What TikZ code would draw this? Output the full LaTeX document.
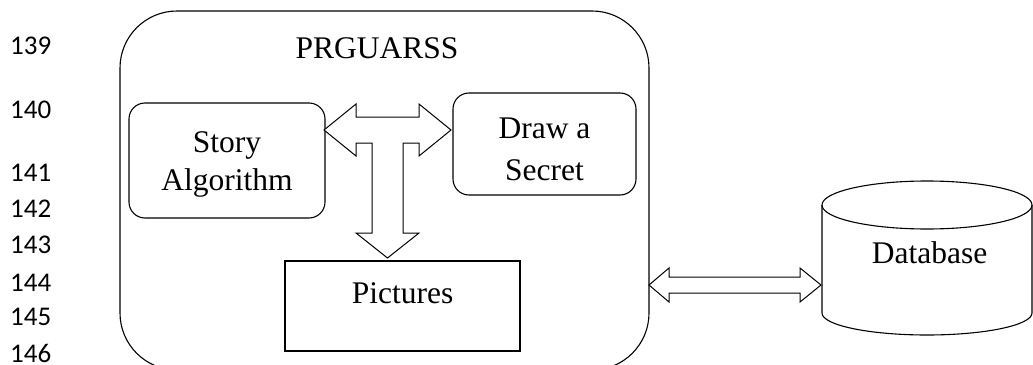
\documentclass[tikz,border=0pt]{standalone}
\usepackage{fontspec}
\setmainfont{Liberation Serif}
\newfontfamily\numfont{Carlito}
\usetikzlibrary{calc}
\begin{document}
\begin{tikzpicture}[x=1pt,y=-1pt,
  lnum/.style={font=\numfont\fontsize{27}{29}\selectfont, anchor=base west, inner sep=0pt},
  lbl/.style={font=\fontsize{31.5}{38}\selectfont, anchor=base, inner sep=0pt},
  rbox/.style={draw, line width=1.1pt, rounded corners=16pt},
  fatarrow/.style={draw, line width=1pt, fill=white, line join=miter}
]
\useasboundingbox (0,0) rectangle (1033,364);
% line numbers
\node[lnum] (n139) at (10,54) {139};
\node[lnum] (n140) at (10,118) {140};
\node[lnum] (n141) at (10,181) {141};
\node[lnum] (n142) at (10,217) {142};
\node[lnum] (n143) at (10,253) {143};
\node[lnum] (n144) at (10,291) {144};
\node[lnum] (n145) at (10,325) {145};
\node[lnum] (n146) at (10,362) {146};
% outer box
\draw[line width=1.1pt, rounded corners=57pt] (120,11) rectangle (649,370);
\coordinate (outerR) at (649,285);
\node[lbl] (title) at (377,58) {PRGUARSS};
% inner boxes
\draw[rbox] (129,103) rectangle (325,218);
\node[lbl] (story1) at (227,152) {Story};
\node[lbl] (story2) at (227,190) {Algorithm};
\draw[rbox] (453,93) rectangle (636,195);
\node[lbl] (draw1) at (544.5,138) {Draw a};
\node[lbl] (draw2) at (544.5,180) {Secret};
\draw[line width=1.1pt] (285,261) rectangle (520,351);
\node[lbl] (pict) at (402.5,303) {Pictures};
% T-shaped arrow
\draw[fatarrow] (324,130) -- (356,104) -- (356,117) -- (419,117) -- (419,104) -- (451,130)
  -- (419,156) -- (419,143) -- (403,143) -- (403,233) -- (419,233) -- (387.5,258)
  -- (356,233) -- (372,233) -- (372,143) -- (356,143) -- (356,156) -- cycle;
% database cylinder
\draw[line width=1.1pt, fill=white] (822,205) -- (822,313) arc[start angle=180, end angle=0, x radius=105, y radius=22] -- (1032,205);
\draw[line width=1.1pt] (927,205) ellipse[x radius=105, y radius=24];
\node[lbl] (db) at (929.5,263) {Database};
\coordinate (dbL) at (821,285);
% horizontal double arrow
\draw[fatarrow] (outerR) -- ($(outerR)+(20,-17)$) -- ($(outerR)+(20,-8)$) -- ($(dbL)+(-21,-8)$)
  -- ($(dbL)+(-21,-17)$) -- (dbL) -- ($(dbL)+(-21,17)$) -- ($(dbL)+(-21,8)$)
  -- ($(outerR)+(20,8)$) -- ($(outerR)+(20,17)$) -- cycle;
\end{tikzpicture}
\end{document}
